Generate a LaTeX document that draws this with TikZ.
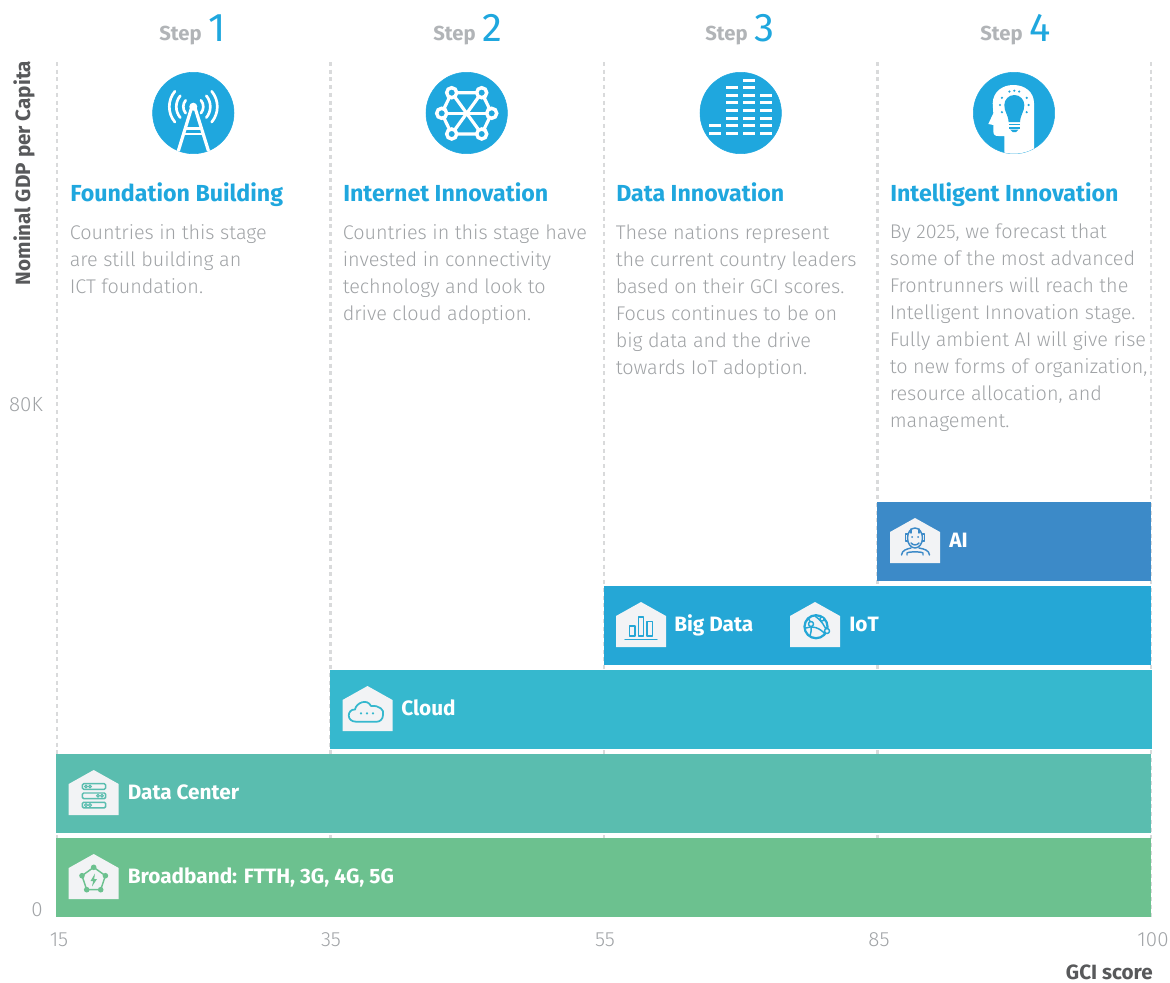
\documentclass[tikz,border=0pt]{standalone}
\usepackage{fontspec}
\setmainfont{Fira Sans}
\newfontfamily\lightfont{Fira Sans Light}
\definecolor{stepblue}{HTML}{1FA7DE}
\definecolor{stepgray}{HTML}{B1B4B7}
\definecolor{bodygray}{HTML}{A0A3A6}
\definecolor{axisdark}{HTML}{58595B}
\definecolor{guidegray}{HTML}{D9DADB}
\definecolor{aiblue}{HTML}{3C8AC8}
\definecolor{databar}{HTML}{25A7D6}
\definecolor{cloudbar}{HTML}{36B8CE}
\definecolor{centerbar}{HTML}{5ABDAF}
\definecolor{bandbar}{HTML}{6CC18F}
\definecolor{housefill}{HTML}{F2F3F5}
\tikzset{
  x=0.75pt,y=-0.75pt,
  guide/.style={guidegray,line width=1.9pt,dash pattern=on 3pt off 2.8pt},
  steptext/.style={anchor=base west,inner sep=0pt,text=stepgray,font=\fontsize{15.2}{18}\selectfont\bfseries},
  stepnum/.style={anchor=base west,inner sep=0pt,text=stepblue,font=\fontsize{30}{32}\selectfont},
  titletext/.style={anchor=base west,inner sep=0pt,text=stepblue,font=\fontsize{17.4}{20}\selectfont\bfseries},
  bodytext/.style={anchor=north west,inner sep=0pt,align=left,text=bodygray,font=\fontsize{14.85}{20.25}\lightfont},
  bartext/.style={anchor=base west,inner sep=0pt,text=white,font=\fontsize{15.6}{18}\selectfont\bfseries},
  ticktext/.style={inner sep=0pt,text=bodygray,font=\fontsize{15.4}{17}\lightfont},
  axistext/.style={inner sep=0pt,text=axisdark,font=\fontsize{15.5}{17}\selectfont\bfseries},
  barbox/.style={anchor=north west,inner sep=0pt,minimum height=59.25pt},
  hometag/.pic={\fill[housefill] (0,0) -- (25,14) -- (25,45) -- (-25,45) -- (-25,14) -- cycle;},
  iconline/.style={line width=1.1pt,line cap=round,line join=round}
}
\begin{document}
\begin{tikzpicture}
\useasboundingbox (0,0) rectangle (1170,982);

\draw [guide] (57,62) -- (57,917);
\draw [guide] (330.5,62) -- (330.5,917);
\draw [guide] (604,62) -- (604,917);
\draw [guide] (877.7,62) -- (877.7,917);
\draw [guide] (1151,62) -- (1151,917);

\node [barbox,fill=aiblue,minimum width=205.5pt] (aibar) at (877,502) {};
\node [barbox,fill=databar,minimum width=410.25pt] (databar) at (604,586) {};
\node [barbox,fill=cloudbar,minimum width=616pt] (cloudbar) at (330,670) {};
\node [barbox,fill=centerbar,minimum width=821.25pt] (centerbar) at (56,754) {};
\node [barbox,fill=bandbar,minimum width=821.25pt] (bandbar) at (56,838) {};

\node [steptext] (step1) at (159,40) {Step};
\node [stepnum] (num1) at (208,41) {1};
\node [steptext] (step2) at (433,40) {Step};
\node [stepnum] (num2) at (482,41) {2};
\node [steptext] (step3) at (705,40) {Step};
\node [stepnum] (num3) at (754,41) {3};
\node [steptext] (step4) at (980,40) {Step};
\node [stepnum] (num4) at (1029,41) {4};

\filldraw [stepblue] (193.3,113) circle (40.7);
\filldraw [stepblue] (466.7,113) circle (40.7);
\filldraw [stepblue] (740.7,113) circle (40.7);
\filldraw [stepblue] (1014,113) circle (40.7);

\fill [white] (193.3,106.7) circle (4);
\draw [white,line width=2.4pt] (191.5,108) -- (178.3,151);
\draw [white,line width=2.4pt] (195.1,108) -- (208.5,151);
\draw [white,line width=2.2pt] (186,128.5) -- (200.6,128.5);
\draw [white,line width=2.2pt] (184.5,134) -- (202.1,134);
\foreach \r in {10,17,24} {
  \draw [white,line width=2pt,line cap=round] (193.3,106.7) ++(-40:\r) arc (-40:40:\r);
  \draw [white,line width=2pt,line cap=round] (193.3,106.7) ++(140:\r) arc (140:220:\r);
}

\coordinate (n1) at (451.7,92.7);
\coordinate (n2) at (481.7,92.7);
\coordinate (n3) at (491.7,113.3);
\coordinate (n4) at (481.7,134);
\coordinate (n5) at (451.7,134);
\coordinate (n6) at (441.7,113.3);
\draw [white,line width=2.4pt] (n1) -- (n2) -- (n3) -- (n4) -- (n5) -- (n6) -- cycle;
\draw [white,line width=2.4pt] (n1) -- (n4);
\draw [white,line width=2.4pt] (n2) -- (n5);
\draw [white,line width=2.4pt] (n3) -- (n6);
\foreach \n in {n1,n2,n3,n4,n5,n6} {
  \filldraw [fill=stepblue,draw=white,line width=2.6pt] (\n) circle (5);
}

\foreach \x/\top in {709/125.7,726/87.7,743/80,760/95.3} {
  \foreach \y in {80,87.7,95.3,102.7,110.3,118,125.7,133.3} {
    \ifdim \y pt<\top pt \else
      \fill [white] (\x,\y-1.5) rectangle (\x+12.3,\y+1.5);
    \fi
  }
}

\begin{scope}
\clip (1014,113) circle (40.7);
\fill [white] (1004.3,156) -- (1004.3,136) -- (998.3,136) .. controls (995,136) and (993.3,135) .. (993.3,131) -- (993.3,125) -- (988.3,124) -- (993.3,113.3) -- (992.7,103.3) .. controls (993,92) and (1002,85) .. (1013.3,85) .. controls (1025,85) and (1034,92) .. (1034,103.3) -- (1034,156) -- cycle;
\end{scope}
\fill [stepblue] (1008.6,122) .. controls (1008,114) and (1004.3,112) .. (1004.3,105) arc (180:360:10) .. controls (1024.3,112) and (1020.6,114) .. (1020,122) -- cycle;
\fill [stepblue] (1009,123.5) rectangle (1019.6,125.3);
\fill [stepblue] (1009,127) rectangle (1019.6,128.8);
\fill [stepblue] (1010,129.5) -- (1018.6,129.5) -- (1016,132) -- (1012.6,132) -- cycle;
\foreach \a in {150,180,210,250,270,290,330,0,30} {
  \fill [stepblue] (1014.3,105) ++(\a:14.3) circle (1.2);
}

\node [titletext] (title1) at (70,201) {Foundation Building};
\node [titletext] (title2) at (343,201) {Internet Innovation};
\node [titletext] (title3) at (616,201) {Data Innovation};
\node [titletext] (title4) at (890,201) {Intelligent Innovation};

\node [bodytext] (body1) at (69.5,224) {Countries in this stage\\are still building an\\ICT foundation.};
\node [bodytext] (body2) at (342.5,224) {Countries in this stage have\\invested in connectivity\\technology and look to\\drive cloud adoption.};
\node [bodytext] (body3) at (615.5,224) {These nations represent\\the current country leaders\\based on their GCI scores.\\Focus continues to be on\\big data and the drive\\towards IoT adoption.};
\node [bodytext] (body4) at (889.5,224) {By 2025, we forecast that\\some of the most advanced\\Frontrunners will reach the\\Intelligent Innovation stage.\\Fully ambient AI will give rise\\to new forms of organization,\\resource allocation, and\\management.};

\pic at (915,518) {hometag};
\pic at (641,602) {hometag};
\pic at (815,602) {hometag};
\pic at (367.5,686) {hometag};
\pic at (93.7,770) {hometag};
\pic at (93.7,854) {hometag};

\draw [aiblue,iconline] (915,538) ellipse (7.5 and 10);
\draw [aiblue,iconline] (907.5,534) -- (905.5,534) -- (905.5,541) -- (907.5,541);
\draw [aiblue,iconline] (922.5,534) -- (924.5,534) -- (924.5,541) -- (922.5,541);
\draw [aiblue,iconline] (911,543) .. controls (913,545.5) and (917,545.5) .. (919,543);
\fill [aiblue] (912,537) circle (1);
\fill [aiblue] (918,537) circle (1);
\draw [aiblue,iconline] (911,529) -- (911,533);
\draw [aiblue,iconline] (919,529) -- (919,533);
\draw [aiblue,iconline] (901.5,555) .. controls (902,550) and (907,549) .. (911,548);
\draw [aiblue,iconline] (929.5,555) .. controls (929,550) and (924,549) .. (919,548);
\draw [aiblue,iconline] (907,555) -- (907,553) .. controls (908,551.5) and (922,551.5) .. (923,553) -- (923,555);

\draw [databar,iconline] (625,639.3) -- (657,639.3);
\draw [databar,iconline] (629.7,626) rectangle (635,636);
\draw [databar,iconline] (638.3,617) rectangle (643.7,636);
\draw [databar,iconline] (647,621.7) rectangle (652.3,636);

\draw [databar,line width=1.7pt] (816,626.7) circle (11.5);
\draw [databar,iconline] (808,618) .. controls (812,622) and (812,630) .. (810,636);
\draw [databar,iconline] (806,628) .. controls (812,625) and (820,628) .. (825,634);
\draw [databar,iconline] (815,616) .. controls (821,620) and (825,626) .. (827,632);
\draw [databar,iconline,fill=housefill] (811,624) circle (2.5);
\draw [databar,iconline,fill=housefill] (822,619) circle (2);
\draw [databar,iconline,fill=housefill] (827,631) circle (2.5);

\draw [cloudbar,line width=1.3pt,line join=round] (356,721.7) .. controls (346,721.7) and (347,709) .. (355,709.5) .. controls (356,703) and (367,698) .. (371,706) .. controls (379,705) and (385,710) .. (383,715) .. controls (383,719) and (380,721.7) .. (377,721.7) -- cycle;
\foreach \x in {361,367,373} {
  \fill [cloudbar] (\x,713.3) circle (1.2);
}

\foreach \y in {783.7,793,802.3} {
  \draw [centerbar,iconline,rounded corners=1pt] (82.3,\y) rectangle (105.7,\y+5.6);
}
\foreach \x/\y in {86/786.5,90/786.5,98/795.8,102/795.8,86/805.1,90/805.1} {
  \draw [centerbar,line width=0.8pt] (\x,\y) circle (1.4);
}

\coordinate (p1) at (93.7,867.3);
\coordinate (p2) at (105.4,875.7);
\coordinate (p3) at (100.7,889.7);
\coordinate (p4) at (86.7,889.7);
\coordinate (p5) at (82,875.7);
\draw [bandbar,line width=1.1pt] (p1) -- (p2) -- (p3) -- (p4) -- (p5) -- cycle;
\foreach \p in {p1,p2,p3,p4,p5} {
  \fill [bandbar] (\p) circle (2.8);
}
\fill [bandbar] (95,873.5) -- (90.5,881) -- (93.2,881) -- (92,886.5) -- (97,879) -- (94.2,879) -- cycle;

\node [bartext] (ailabel) at (949,547) {AI};
\node [bartext] (bigdatalabel) at (674,631) {Big Data};
\node [bartext] (iotlabel) at (849,631) {IoT};
\node [bartext] (cloudlabel) at (401,715) {Cloud};
\node [bartext] (centerlabel) at (127.5,799) {Data Center};
\node [bartext] (bandlabel) at (127.5,883) {Broadband: FTTH, 3G, 4G, 5G};

\node [axistext,rotate=90] (ylabel) at (24,173) {Nominal GDP per Capita};
\node [axistext,anchor=base east] (xlabel) at (1153,979.5) {GCI score};
\node [ticktext,anchor=east] (tick80) at (43,405) {80K};
\node [ticktext,anchor=east] (tick0) at (43,910) {0};
\node [ticktext] (tick15) at (59,940) {15};
\node [ticktext] (tick35) at (331,940) {35};
\node [ticktext] (tick55) at (605,940) {55};
\node [ticktext] (tick85) at (879,940) {85};
\node [ticktext] (tick100) at (1153,940) {100};
\end{tikzpicture}
\end{document}
